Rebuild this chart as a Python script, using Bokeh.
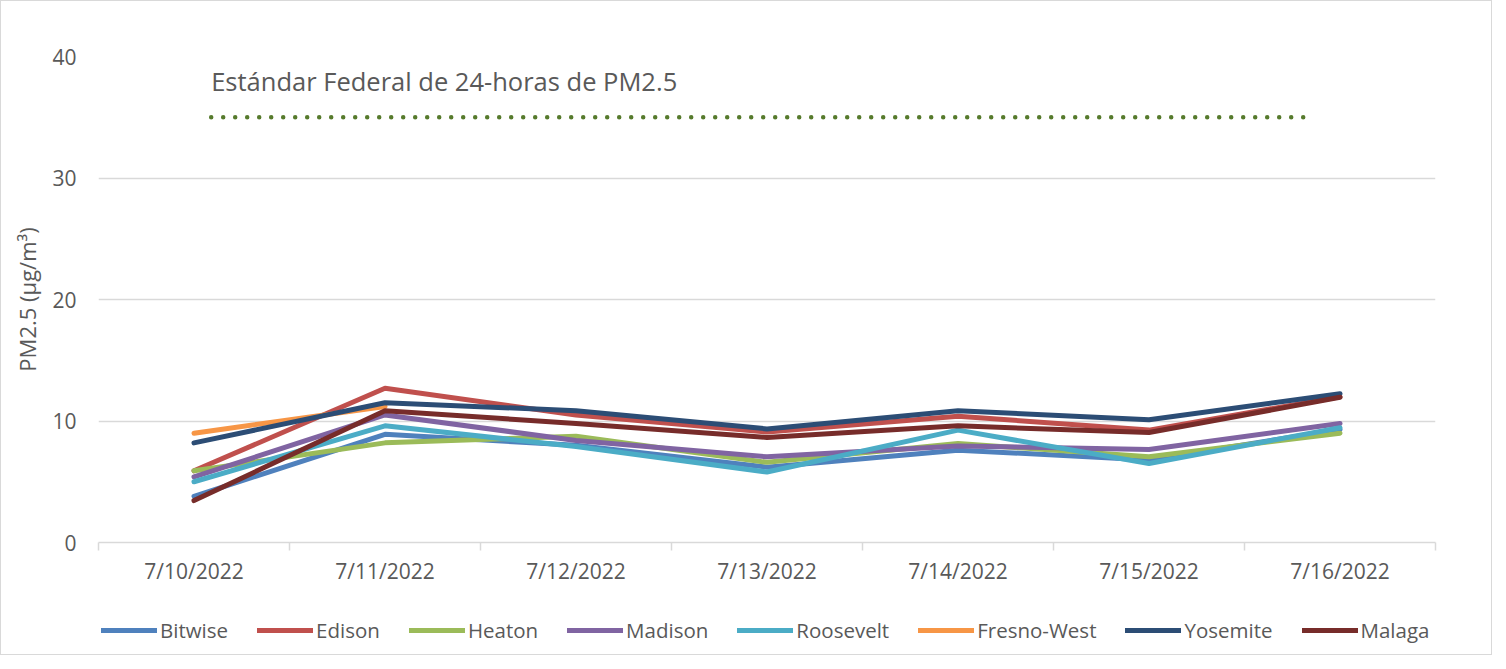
import math
from bokeh.plotting import figure
from bokeh.layouts import column
from bokeh.models import Range1d, FixedTicker, Legend, LegendItem, Label
from bokeh.embed import file_html
from bokeh.resources import INLINE

nan = math.nan

DATES = ["7/10/2022", "7/11/2022", "7/12/2022", "7/13/2022",
         "7/14/2022", "7/15/2022", "7/16/2022"]

BITWISE = [3.8, 8.9, 8.0, 6.2, 7.6, 6.8, 9.3]
EDISON = [5.9, 12.7, 10.5, 9.1, 10.4, 9.25, 12.0]
HEATON = [5.9, 8.2, 8.75, 6.6, 8.15, 7.05, 9.0]
MADISON = [5.4, 10.5, 8.4, 7.05, 7.95, 7.65, 9.8]
ROOSEVELT = [5.0, 9.6, 7.9, 5.8, 9.25, 6.5, 9.45]
FRESNO_WEST = [9.0, 11.2, nan, nan, nan, nan, nan]
YOSEMITE = [8.2, 11.5, 10.85, 9.35, 10.85, 10.1, 12.25]
MALAGA = [3.45, 10.85, 9.8, 8.65, 9.6, 9.05, 11.95]

Y_TICKS = [0, 10, 20, 30, 40]

STANDARD = 35
STANDARD_TEXT = "Estándar Federal de 24-horas de PM2.5"
STD_X0, STD_X1 = 0.09, 5.84

SERIES = [
    ("Bitwise", BITWISE, "#4F81BD"),
    ("Edison", EDISON, "#C0504D"),
    ("Heaton", HEATON, "#9BBB59"),
    ("Madison", MADISON, "#8064A2"),
    ("Roosevelt", ROOSEVELT, "#4BACC6"),
    ("Fresno-West", FRESNO_WEST, "#F79646"),
    ("Yosemite", YOSEMITE, "#2C4D75"),
    ("Malaga", MALAGA, "#772C2A"),
]

TXT = "#595959"
GRID = "#D9D9D9"
FONT = "Open Sans"

xs = list(range(len(DATES)))

# ---------------- main chart ----------------
p = figure(width=1490, height=601, output_backend="svg", toolbar_location=None,
           x_range=Range1d(-0.5, len(DATES) - 0.5), y_range=Range1d(Y_TICKS[0], Y_TICKS[-1]),
           min_border_left=97, min_border_right=56, min_border_top=55,
           min_border_bottom=60)
p.outline_line_color = None
p.background_fill_color = "white"

for name, vals, col in SERIES:
    p.line(xs, vals, line_color=col, line_width=5, line_join="round", line_cap="round")

p.line([STD_X0, STD_X1], [STANDARD, STANDARD], line_color="#567A2C", line_width=4.5,
       line_dash="0 12", line_cap="round")
p.add_layout(Label(x=STD_X0, y=37.95, text=STANDARD_TEXT, text_baseline="middle",
                   text_font=FONT, text_font_size="25.5px", text_color=TXT))

# y axis
p.yaxis.ticker = FixedTicker(ticks=Y_TICKS)
p.yaxis.axis_line_color = None
p.yaxis.major_tick_line_color = None
p.yaxis.minor_tick_line_color = None
p.yaxis.major_tick_out = 0
p.yaxis.major_label_standoff = 22
p.yaxis.major_label_text_font = FONT
p.yaxis.major_label_text_font_size = "21px"
p.yaxis.major_label_text_color = TXT
p.yaxis.axis_label = "PM2.5 (µg/m³)"
p.yaxis.axis_label_text_font = FONT
p.yaxis.axis_label_text_font_size = "22px"
p.yaxis.axis_label_text_font_style = "normal"
p.yaxis.axis_label_text_color = TXT
p.yaxis.axis_label_standoff = 7

p.ygrid.ticker = FixedTicker(ticks=Y_TICKS[1:])
p.ygrid.grid_line_color = GRID
p.ygrid.grid_line_width = 1.5
p.xgrid.grid_line_color = None

# x axis
p.xaxis.ticker = FixedTicker(ticks=xs, minor_ticks=[i - 0.5 for i in range(len(DATES) + 1)])
p.xaxis.major_label_overrides = {i: d for i, d in enumerate(DATES)}
p.xaxis.axis_line_color = GRID
p.xaxis.axis_line_width = 1.5
p.xaxis.major_tick_line_color = None
p.xaxis.major_tick_out = 0
p.xaxis.minor_tick_line_color = GRID
p.xaxis.minor_tick_line_width = 1.5
p.xaxis.minor_tick_out = 8
p.xaxis.minor_tick_in = 0
p.xaxis.major_label_standoff = 6
p.xaxis.major_label_text_font = FONT
p.xaxis.major_label_text_font_size = "21px"
p.xaxis.major_label_text_color = TXT

# ---------------- legend strip ----------------
lg = figure(width=1490, height=52, output_backend="svg", toolbar_location=None,
            x_range=Range1d(-0.5, len(DATES) - 0.5), y_range=Range1d(100, 101),
            x_axis_location=None, y_axis_location=None,
            min_border_left=0, min_border_right=0, min_border_top=0, min_border_bottom=0)
lg.outline_line_color = None
lg.xgrid.grid_line_color = None
lg.ygrid.grid_line_color = None

items = []
for name, vals, col in SERIES:
    # same series, out of this strip's view: only used for the legend keys
    r = lg.line(xs, vals, line_color=col, line_width=5, line_cap="round")
    items.append(LegendItem(label=name, renderers=[r]))

legend = Legend(items=items, orientation="horizontal", location=(3, 10),
                glyph_width=56, glyph_height=20, label_standoff=3, spacing=29,
                label_text_font=FONT, label_text_font_size="20.5px",
                label_text_color=TXT, border_line_color=None,
                background_fill_alpha=0, padding=0, margin=0)
lg.add_layout(legend)

page = column(p, lg, spacing=0)
page.styles = {"border": "1px solid #D9D9D9"}

open("out.html", "w").write(file_html(page, INLINE))
